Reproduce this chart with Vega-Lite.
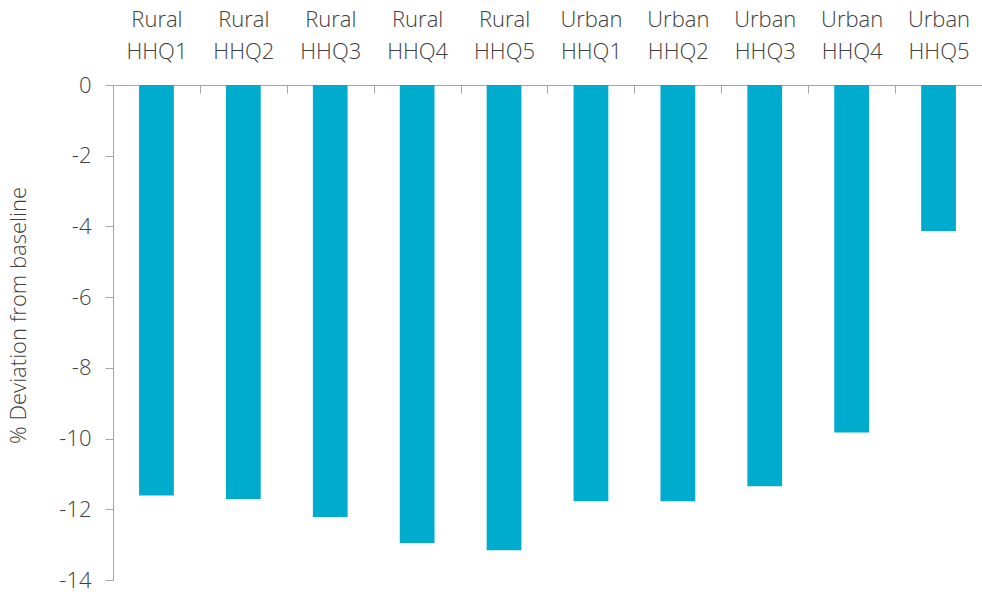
{
  "$schema": "https://vega.github.io/schema/vega-lite/v6.json",
  "autosize": {"type": "none"},
  "width": 869,
  "height": 495,
  "padding": {"left": 113, "top": 85, "right": 0, "bottom": 14},
  "background": "white",
  "config": {"view": {"stroke": null}, "font": "Open Sans"},
  "data": {
    "values": [
      {"group": "Rural HHQ1", "value": -11.61},
      {"group": "Rural HHQ2", "value": -11.71},
      {"group": "Rural HHQ3", "value": -12.22},
      {"group": "Rural HHQ4", "value": -12.95},
      {"group": "Rural HHQ5", "value": -13.16},
      {"group": "Urban HHQ1", "value": -11.77},
      {"group": "Urban HHQ2", "value": -11.77},
      {"group": "Urban HHQ3", "value": -11.35},
      {"group": "Urban HHQ4", "value": -9.83},
      {"group": "Urban HHQ5", "value": -4.13}
    ]
  },
  "mark": {"type": "bar", "color": "#00ACCE"},
  "encoding": {
    "x": {
      "field": "group",
      "type": "nominal",
      "sort": null,
      "scale": {"paddingInner": 0.6, "paddingOuter": 0.3},
      "axis": {
        "orient": "top",
        "title": null,
        "labelAngle": 0,
        "labelExpr": "split(datum.label, ' ')",
        "labelLineHeight": 32,
        "labelFontSize": 22,
        "labelFont": "Open Sans",
        "labelFontWeight": 300,
        "labelColor": "#404040",
        "labelPadding": 62,
        "tickBand": "center",
        "tickOffset": 43.45,
        "labelOffset": -43.45,
        "tickSize": -8,
        "tickColor": "#A6A6A6",
        "domainColor": "#A6A6A6",
        "grid": false
      }
    },
    "y": {
      "field": "value",
      "type": "quantitative",
      "scale": {"domain": [-14, 0], "nice": false},
      "axis": {
        "values": [0, -2, -4, -6, -8, -10, -12, -14],
        "labelExpr": "datum.value == 0 ? '0' : '-' + abs(datum.value)",
        "title": "% Deviation from baseline",
        "titleFont": "Open Sans",
        "titleFontWeight": 300,
        "titleFontSize": 22,
        "titleColor": "#404040",
        "titleBaseline": "alphabetic",
        "titleX": -88,
        "titleY": 230,
        "labelFontSize": 22,
        "labelFont": "Open Sans",
        "labelFontWeight": 300,
        "labelColor": "#404040",
        "labelPadding": 14,
        "tickSize": 8,
        "tickColor": "#A6A6A6",
        "domainColor": "#A6A6A6",
        "grid": false
      }
    }
  }
}
